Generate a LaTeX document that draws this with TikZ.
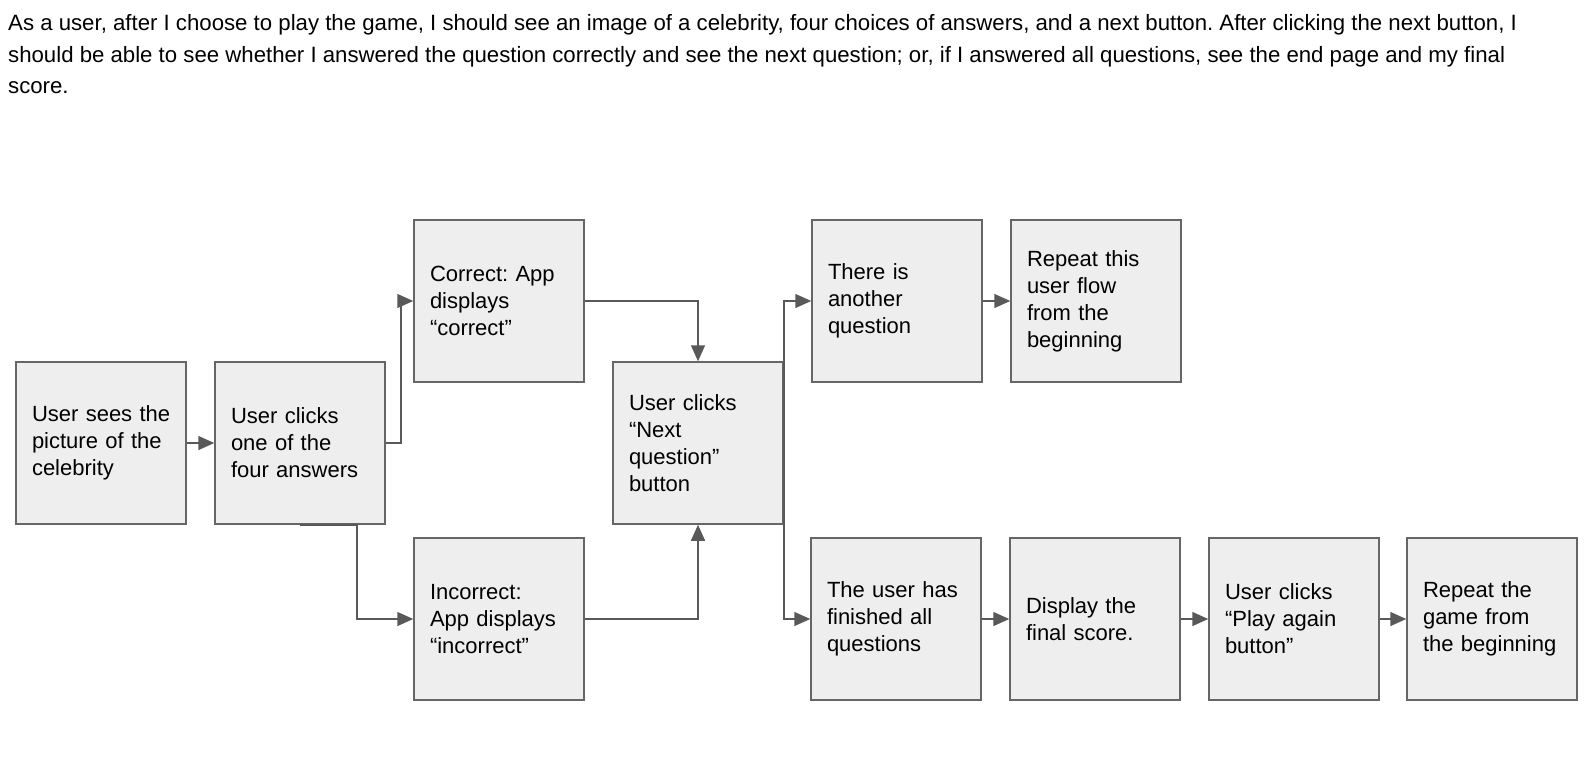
\documentclass[tikz,border=0pt]{standalone}
\usepackage{fontspec}
\setmainfont{Liberation Sans}
\usetikzlibrary{arrows.meta}
\definecolor{boxfill}{HTML}{EEEEEE}
\definecolor{boxline}{HTML}{666666}
\definecolor{arrowc}{HTML}{595959}
\frenchspacing
\begin{document}
\begin{tikzpicture}[x=1pt,y=-1pt,
  flowbox/.style={draw=boxline,fill=boxfill,line width=1.5pt,minimum width=170pt,minimum height=162pt,
    text width=142pt,inner xsep=14pt,inner ysep=0pt,align=left,font=\fontsize{22}{27}\selectfont\frenchspacing},
  headline/.style={anchor=base west,inner sep=0pt,font=\fontsize{22.2}{27}\selectfont\frenchspacing},
  conn/.style={draw=arrowc,line width=1.5pt,-{Triangle[length=16pt,width=14pt]}}]
\useasboundingbox (0,0) rectangle (1590,782);
\node[headline] (h1) at (8,30.5) {As a user, after I choose to play the game, I should see an image of a celebrity, four choices of answers, and a next button. After clicking the next button, I};
\node[headline] (h2) at (8,62) {should be able to see whether I answered the question correctly and see the next question; or, if I answered all questions, see the end page and my final};
\node[headline] (h3) at (8,93.5) {score.};

\node[flowbox] (b1) at (101,443) {\hspace*{2pt}User sees the\\\hspace*{2pt}picture of the\\\hspace*{2pt}celebrity};
\node[flowbox] (b2) at (300,443) {\hspace*{2pt}User clicks\\\hspace*{2pt}one of the\\\hspace*{2pt}four answers};
\node[flowbox] (cor) at (499,301) {\hspace*{2pt}Correct: App\\\hspace*{2pt}displays\\\hspace*{2pt}“correct”};
\node[flowbox] (inc) at (499,619) {\hspace*{2pt}Incorrect:\\\hspace*{2pt}App displays\\\hspace*{2pt}“incorrect”};
\node[flowbox] (nxt) at (698,443) {\hspace*{2pt}User clicks\\\hspace*{2pt}“Next\\\hspace*{2pt}question”\\\hspace*{2pt}button};
\node[flowbox] (ano) at (897,301) {\hspace*{2pt}There is\\\hspace*{2pt}another\\\hspace*{2pt}question};
\node[flowbox] (rfl) at (1096,301) {\hspace*{2pt}Repeat this\\\hspace*{2pt}user flow\\\hspace*{2pt}from the\\\hspace*{2pt}beginning};
\node[flowbox] (fin) at (896,619) {\hspace*{2pt}The user has\\\hspace*{2pt}finished all\\\hspace*{2pt}questions};
\node[flowbox] (dis) at (1095,619) {\hspace*{2pt}Display the\\\hspace*{2pt}final score.};
\node[flowbox] (pla) at (1294,619) {\hspace*{2pt}User clicks\\\hspace*{2pt}“Play again\\\hspace*{2pt}button”};
\node[flowbox] (rga) at (1492,619) {\hspace*{2pt}Repeat the\\\hspace*{2pt}game from\\\hspace*{2pt}the beginning};

\draw[conn] (b1.east) -- (b2.west);
\draw[conn] (b2.east) -- ++(15,0) |- (cor.west);
\draw[conn] (b2.south) -- ++(57,0) |- (inc.west);
\draw[conn] (cor.east) -| (nxt.north);
\draw[conn] (inc.east) -| (nxt.south);
\draw[conn] (nxt.east) |- (ano.west);
\draw[conn] (nxt.east) |- (fin.west);
\draw[conn] (ano.east) -- (rfl.west);
\draw[conn] (fin.east) -- (dis.west);
\draw[conn] (dis.east) -- (pla.west);
\draw[conn] (pla.east) -- (rga.west);
\end{tikzpicture}
\end{document}
